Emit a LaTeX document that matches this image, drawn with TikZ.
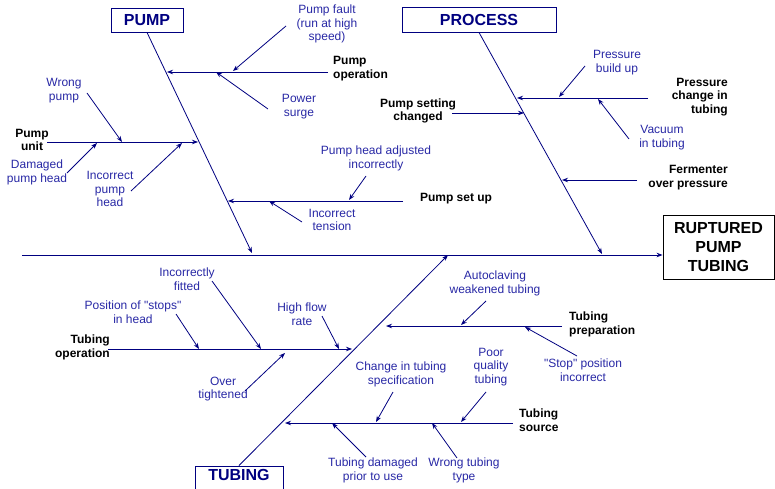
\documentclass[tikz,border=0pt]{standalone}
\usepackage{fontspec}
\setmainfont{Liberation Sans}[Ligatures=TeXOff]
\usepackage{tikz}
\usetikzlibrary{positioning}
\usetikzlibrary{arrows.meta}
\definecolor{navy}{RGB}{0,0,128}
\definecolor{causeblue}{RGB}{40,40,165}
\tikzset{
  cause/.style={text=causeblue, align=center, inner sep=0pt, font=\fontsize{12}{13.8}\selectfont},
  group/.style={text=black, inner sep=0pt, font=\fontsize{12}{13.8}\selectfont\bfseries},
  catbox/.style={draw=navy, text=navy, line width=0.9pt, inner sep=0pt, font=\fontsize{16}{18.4}\selectfont\bfseries},
  arr/.style={navy, line width=0.8pt, -{Stealth[length=6pt,width=4.5pt]}}
}

\begin{document}
\begin{tikzpicture}[x=1pt,y=-1pt]
   \useasboundingbox (0,0) rectangle (775,489);
   % boxes
   \draw (147,20) node[catbox, minimum width=72pt, minimum height=24pt] (pump) {PUMP};
   \draw (479,19.5) node[catbox, minimum width=154pt, minimum height=25pt] (process) {PROCESS};
   \draw (239,481) node[catbox, minimum width=88pt, minimum height=30pt, text depth=12pt] (tubing) {TUBING};
   \draw (718.5,247) node[catbox, draw=black, text=black, align=center, minimum width=111pt, minimum height=64pt, font=\fontsize{16}{19}\selectfont\bfseries] (rupt) {RUPTURED\\PUMP\\TUBING};
   % backbone and spines
   \coordinate (tail) at (22,255);
   \coordinate (pumpend) at (252,253);
   \coordinate (procend) at (602,254);
   \coordinate (tubend) at (448,255);
   \draw[arr] (tail) -- (tail -| rupt.west);
   \draw[arr] (pump.south) -- (pumpend);
   \draw[arr] (process.south) -- (procend);
   \draw[arr] (tubing.north) -- (tubend);

   % PUMP branches
   \draw (333,69) node[group, anchor=west, align=left] (pumpop) {Pump\\operation};
   \draw (32,140) node[group, align=center] (pumpunit) {Pump\\unit};
   \draw (456,199) node[group] (pumpset) {Pump set up};
   \coordinate (pumpop-a) at (328,72);  \coordinate (pumpop-b) at (167,72);
   \coordinate (pumpunit-a) at (47,142); \coordinate (pumpunit-b) at (198,142);
   \coordinate (pumpset-a) at (403,201); \coordinate (pumpset-b) at (228,201);
   \draw[arr] (pumpop-a) -- (pumpop-b);
   \draw[arr] (pumpunit-a) -- (pumpunit-b);
   \draw[arr] (pumpset-a) -- (pumpset-b);

   \draw (327,24) node[cause] (fault) {Pump fault\\(run at high\\speed)};
   \draw (299,107) node[cause] (surge) {Power\\surge};
   \draw (64,91) node[cause] (wrongpump) {Wrong\\pump};
   \draw (37,172) node[cause] (damhead) {Damaged\\pump head};
   \draw (110,189) node[cause] (incohead) {Incorrect\\pump\\head};
   \draw (376,158) node[cause] (adjusted) {Pump head adjusted\\incorrectly};
   \draw (332,220) node[cause] (tension) {Incorrect\\tension};
   \coordinate (fault-a) at (286,26);     \coordinate (fault-b) at (233,71);
   \coordinate (surge-a) at (268,109);    \coordinate (surge-b) at (216,72);
   \coordinate (wrongpump-a) at (87,93);  \coordinate (wrongpump-b) at (122,142);
   \coordinate (damhead-a) at (67,173);   \coordinate (damhead-b) at (97,143);
   \coordinate (incohead-a) at (131,191); \coordinate (incohead-b) at (182,143);
   \coordinate (adjusted-a) at (366,176); \coordinate (adjusted-b) at (349,200);
   \coordinate (tension-a) at (302,222);  \coordinate (tension-b) at (269,201);
   \draw[arr] (fault-a) -- (fault-b);
   \draw[arr] (surge-a) -- (surge-b);
   \draw[arr] (wrongpump-a) -- (wrongpump-b);
   \draw[arr] (damhead-a) -- (damhead-b);
   \draw[arr] (incohead-a) -- (incohead-b);
   \draw[arr] (adjusted-a) -- (adjusted-b);
   \draw[arr] (tension-a) -- (tension-b);

   % PROCESS branches
   \draw (728,97) node[group, anchor=east, align=right] (preschange) {Pressure\\change in\\tubing};
   \draw (418,111) node[group, align=center] (setting) {Pump setting\\changed};
   \draw (728,178) node[group, anchor=east, align=right] (ferm) {Fermenter\\over pressure};
   \coordinate (preschange-a) at (648,98); \coordinate (preschange-b) at (517,98);
   \coordinate (setting-a) at (452,113);   \coordinate (setting-b) at (524,113);
   \coordinate (ferm-a) at (637,180);      \coordinate (ferm-b) at (562,180);
   \draw[arr] (preschange-a) -- (preschange-b);
   \draw[arr] (setting-a) -- (setting-b);
   \draw[arr] (ferm-a) -- (ferm-b);

   \draw (617,63) node[cause] (buildup) {Pressure\\build up};
   \draw (662,138) node[cause] (vacuum) {Vacuum\\in tubing};
   \coordinate (buildup-a) at (585,66); \coordinate (buildup-b) at (559,97);
   \coordinate (vacuum-a) at (629,139); \coordinate (vacuum-b) at (598,99);
   \draw[arr] (buildup-a) -- (buildup-b);
   \draw[arr] (vacuum-a) -- (vacuum-b);

   % TUBING branches
   \draw (110,347) node[group, anchor=east, align=right] (tubop) {Tubing\\operation};
   \draw (569,324) node[group, anchor=west, align=left] (tubprep) {Tubing\\preparation};
   \draw (519,420) node[group, anchor=west, align=left] (tubsrc) {Tubing\\source};
   \coordinate (tubop-a) at (108,349);   \coordinate (tubop-b) at (352,349);
   \coordinate (tubprep-a) at (562,326); \coordinate (tubprep-b) at (386,326);
   \coordinate (tubsrc-a) at (513,423);  \coordinate (tubsrc-b) at (285,423);
   \draw[arr] (tubop-a) -- (tubop-b);
   \draw[arr] (tubprep-a) -- (tubprep-b);
   \draw[arr] (tubsrc-a) -- (tubsrc-b);

   \draw (133,312) node[cause] (stops) {Position of "stops"\\in head};
   \draw (187,279) node[cause] (fitted) {Incorrectly\\fitted};
   \draw (302,314) node[cause] (highflow) {High flow\\rate};
   \draw (223,389) node[cause] (tight) {Over\\tightened};
   \draw (495,283) node[cause] (autoclave) {Autoclaving\\weakened tubing};
   \draw (583,370) node[cause] (stoppos) {"Stop" position\\incorrect};
   \draw (401,374) node[cause] (spec) {Change in tubing\\specification};
   \draw (491,367) node[cause] (poor) {Poor\\quality\\tubing};
   \draw (373,470) node[cause] (prior) {Tubing damaged\\prior to use};
   \draw (464,470) node[cause] (wrongtype) {Wrong tubing\\type};
   \coordinate (stops-a) at (176,314);     \coordinate (stops-b) at (199,349);
   \coordinate (fitted-a) at (212,281);    \coordinate (fitted-b) at (261,349);
   \coordinate (highflow-a) at (322,316);  \coordinate (highflow-b) at (339,349);
   \coordinate (tight-a) at (245,391);     \coordinate (tight-b) at (285,353);
   \coordinate (autoclave-a) at (486,301); \coordinate (autoclave-b) at (461,325);
   \coordinate (stoppos-a) at (577,356);   \coordinate (stoppos-b) at (525,327);
   \coordinate (spec-a) at (393,392);      \coordinate (spec-b) at (376,422);
   \coordinate (poor-a) at (486,392);      \coordinate (poor-b) at (461,422);
   \coordinate (prior-a) at (366,457);     \coordinate (prior-b) at (332,423);
   \coordinate (wrongtype-a) at (457,458); \coordinate (wrongtype-b) at (432,423);
   \draw[arr] (stops-a) -- (stops-b);
   \draw[arr] (fitted-a) -- (fitted-b);
   \draw[arr] (highflow-a) -- (highflow-b);
   \draw[arr] (tight-a) -- (tight-b);
   \draw[arr] (autoclave-a) -- (autoclave-b);
   \draw[arr] (stoppos-a) -- (stoppos-b);
   \draw[arr] (spec-a) -- (spec-b);
   \draw[arr] (poor-a) -- (poor-b);
   \draw[arr] (prior-a) -- (prior-b);
   \draw[arr] (wrongtype-a) -- (wrongtype-b);
\end{tikzpicture}
\end{document}
